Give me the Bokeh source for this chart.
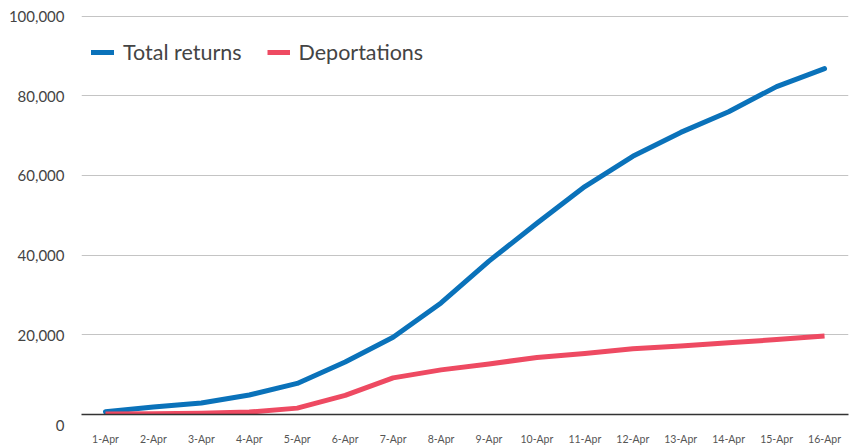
from bokeh.plotting import figure
from bokeh.models import Range1d, FixedTicker, Legend, LegendItem, NumeralTickFormatter
from bokeh.embed import file_html
from bokeh.resources import INLINE

dates = ["1-Apr", "2-Apr", "3-Apr", "4-Apr", "5-Apr", "6-Apr", "7-Apr", "8-Apr",
         "9-Apr", "10-Apr", "11-Apr", "12-Apr", "13-Apr", "14-Apr", "15-Apr", "16-Apr"]
total_returns = [700, 1900, 2900, 4900, 7800, 13200, 19400, 28000,
                 38500, 48000, 57200, 64800, 70800, 76000, 82300, 86800]
deportations = [100, 200, 300, 600, 1600, 4800, 9200, 11200,
                12700, 14300, 15300, 16500, 17200, 18000, 18800, 19700]
y_ticks = [0, 20000, 40000, 60000, 80000, 100000]

xs = list(range(len(dates)))
FONT = "Lato"

p = figure(width=856, height=447, output_backend="svg", toolbar_location=None,
           x_range=Range1d(-0.5, 15.5), y_range=Range1d(0, 101400),
           min_border_left=81, min_border_right=8, min_border_top=10, min_border_bottom=29)
p.outline_line_color = None
p.background_fill_color = "white"
p.border_fill_color = "white"

r1 = p.line(xs, total_returns, line_color="#0a72ba", line_width=5, line_join="round", line_cap="round")
r2 = p.line(xs, deportations, line_color="#ee4a62", line_width=5, line_join="round")

# axes
p.xaxis.ticker = FixedTicker(ticks=xs)
p.xaxis.major_label_overrides = {i: d for i, d in enumerate(dates)}
p.xaxis.major_tick_line_color = None
p.xaxis.minor_tick_line_color = None
p.xaxis.axis_line_color = "#333333"
p.xaxis.axis_line_width = 1.5
p.xaxis.major_label_text_font = FONT
p.xaxis.major_label_text_font_size = "10.5px"
p.xaxis.major_label_text_color = "#555555"
p.xaxis.major_label_standoff = 12

p.yaxis.ticker = FixedTicker(ticks=y_ticks)
p.yaxis.formatter = NumeralTickFormatter(format="0,0")
p.yaxis.major_label_overrides = {0: "\n0"}
p.yaxis.major_tick_line_color = None
p.yaxis.minor_tick_line_color = None
p.yaxis.axis_line_color = None
p.yaxis.major_label_text_font = FONT
p.yaxis.major_label_text_font_size = "15px"
p.yaxis.major_label_text_color = "#444444"
p.yaxis.major_label_standoff = 11

p.xgrid.grid_line_color = None
p.ygrid.ticker = FixedTicker(ticks=y_ticks[1:])
p.ygrid.grid_line_color = "#c4c4c4"
p.ygrid.grid_line_width = 1.2

legend = Legend(items=[LegendItem(label="Total returns", renderers=[r1]),
                       LegendItem(label="Deportations", renderers=[r2])],
                orientation="horizontal", location=(10, 349),
                margin=0, padding=0, spacing=25, glyph_width=23, label_standoff=9,
                label_text_font=FONT, label_text_font_size="21.5px",
                label_text_color="#444444", border_line_color=None,
                background_fill_alpha=0)
p.add_layout(legend)

open("out.html", "w").write(file_html(p, INLINE))
